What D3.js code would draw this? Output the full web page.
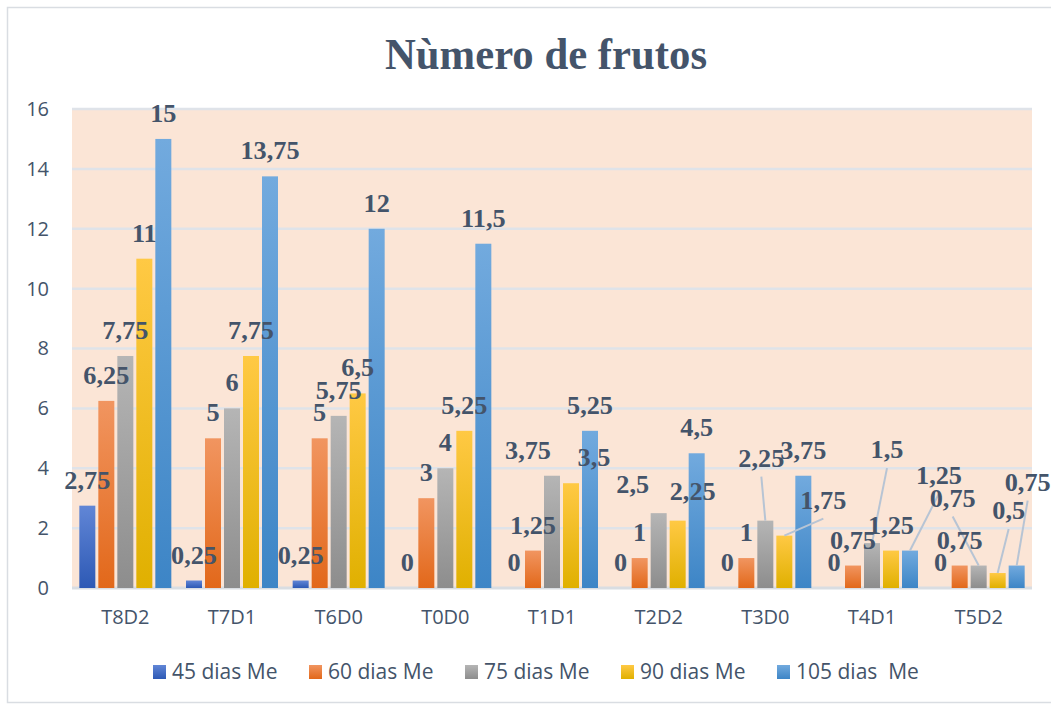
<!DOCTYPE html>
<html>
<head>
<meta charset="utf-8">
<script src="https://cdn.jsdelivr.net/npm/d3@7"></script>
<style>
  html, body { margin: 0; padding: 0; background: #ffffff; }
  svg { display: block; }
</style>
</head>
<body>
<div id="chart"></div>
<script>
// ---- data ----
const categories = ["T8D2", "T7D1", "T6D0", "T0D0", "T1D1", "T2D2", "T3D0", "T4D1", "T5D2"];
const seriesNames = ["45 dias Me", "60 dias Me", "75 dias Me", "90 dias Me", "105 dias  Me"];
const dias45  = [2.75, 0.25, 0.25, 0, 0, 0, 0, 0, 0];
const dias60  = [6.25, 5, 5, 3, 1.25, 1, 1, 0.75, 0.75];
const dias75  = [7.75, 6, 5.75, 4, 3.75, 2.5, 2.25, 1.5, 0.75];
const dias90  = [11, 7.75, 6.5, 5.25, 3.5, 2.25, 1.75, 1.25, 0.5];
const dias105 = [15, 13.75, 12, 11.5, 5.25, 4.5, 3.75, 1.25, 0.75];
const yTicks = [0, 2, 4, 6, 8, 10, 12, 14, 16];
const title = "Nùmero de frutos";

// ---- layout / style (not data) ----
const seriesValues = [dias45, dias60, dias75, dias90, dias105];
const gradStops = [
  ["#6186d6", "#2d59b5"],
  ["#f19560", "#e2681a"],
  ["#b5b5b5", "#8d8d8d"],
  ["#ffc944", "#e0b000"],
  ["#72aade", "#3d85c6"]
];
// manual label moves (pixels) with optional leader line: [categoryIndex, seriesIndex, dx, dy, leader]
const labelMoves = [
  [4, 2, -24, 0, false],
  [4, 3, 23, 0, false],
  [5, 2, -26, -3, false],
  [5, 3, 15, -4, false],
  [6, 2, -4, -37, true],
  [6, 3, 39, -10, true],
  [7, 2, 15, -68, true],
  [7, 4, 29, -50, true],
  [8, 2, -26, -42, true],
  [8, 3, 11, -37, true],
  [8, 4, 11, -58, true]
];

const W = 1051, H = 705;
const plot = { left: 72, right: 1032, top: 109, bottom: 588 };
const textColor = "#44546a";

const svg = d3.select("#chart").append("svg")
  .attr("width", W).attr("height", H);

// outer chart border
svg.append("rect")
  .attr("x", 7.5).attr("y", 7.5)
  .attr("width", W + 10).attr("height", 695)
  .attr("fill", "#ffffff")
  .attr("stroke", "#d9dde2").attr("stroke-width", 1.5);

const defs = svg.append("defs");
gradStops.forEach((g, i) => {
  const lg = defs.append("linearGradient")
    .attr("id", "grad" + i)
    .attr("x1", 0).attr("y1", 0).attr("x2", 0).attr("y2", 1);
  lg.append("stop").attr("offset", "0%").attr("stop-color", g[0]);
  lg.append("stop").attr("offset", "100%").attr("stop-color", g[1]);
});

const x = d3.scaleBand().domain(categories).range([plot.left, plot.right]).padding(0);
const groupW = 92;
const xs = d3.scaleBand().domain(d3.range(seriesNames.length))
  .range([(x.bandwidth() - groupW) / 2, (x.bandwidth() + groupW) / 2])
  .paddingInner(3 / 19).paddingOuter(0);
const y = d3.scaleLinear().domain([0, 16]).range([plot.bottom, plot.top]);

// plot background
svg.append("rect")
  .attr("x", plot.left).attr("y", plot.top)
  .attr("width", plot.right - plot.left).attr("height", plot.bottom - plot.top)
  .attr("fill", "#fbe5d6");

// gridlines
svg.append("g").selectAll("line").data(yTicks).join("line")
  .attr("x1", plot.left).attr("x2", plot.right)
  .attr("y1", d => y(d)).attr("y2", d => y(d))
  .attr("stroke", d => d === 0 ? "#d9dde2" : "#dfe3e9")
  .attr("stroke-width", d => d === 0 ? 3 : 2.5);

// y axis labels
const yAxis = d3.axisLeft(y).tickValues(yTicks).tickSize(0).tickPadding(0).tickFormat(d3.format("d"));
const yg = svg.append("g").attr("transform", `translate(${49},0)`).call(yAxis);
yg.select(".domain").remove();
yg.selectAll("text")
  .attr("font-family", "'Open Sans', sans-serif")
  .attr("font-size", 20)
  .attr("fill", textColor);

// x axis labels
const xAxis = d3.axisBottom(x).tickSize(0).tickPadding(0);
const xg = svg.append("g").attr("transform", `translate(0,${610})`).call(xAxis);
xg.select(".domain").remove();
xg.selectAll("text")
  .attr("font-family", "'Open Sans', sans-serif")
  .attr("font-size", 20)
  .attr("fill", textColor);

// bars
const flat = [];
categories.forEach((c, ci) => {
  seriesValues.forEach((arr, si) => {
    flat.push({ c, ci, si, v: arr[ci] });
  });
});

svg.append("g").selectAll("rect").data(flat.filter(d => d.v > 0)).join("rect")
  .attr("x", d => x(d.c) + xs(d.si))
  .attr("width", xs.bandwidth())
  .attr("y", d => y(d.v))
  .attr("height", d => y(0) - y(d.v))
  .attr("fill", d => `url(#grad${d.si})`);

// data labels
const fmt = v => String(v).replace(".", ",");
const labelPos = flat.map(d => {
  const m = labelMoves.find(k => k[0] === d.ci && k[1] === d.si);
  const bx = x(d.c) + xs(d.si) + xs.bandwidth() / 2;
  const by = y(d.v);
  return {
    ...d, bx, by,
    lx: bx + (m ? m[2] : 0),
    ly: by - 17 + (m ? m[3] : 0),
    leader: m ? m[4] : false
  };
});

svg.append("g").selectAll("line").data(labelPos.filter(d => d.leader)).join("line")
  .attr("x1", d => d.lx).attr("y1", d => d.ly + 10)
  .attr("x2", d => d.bx).attr("y2", d => d.by)
  .attr("stroke", "#b7c4d4").attr("stroke-width", 2);

svg.append("g").selectAll("text").data(labelPos).join("text")
  .attr("transform", d => `translate(${d.lx},${d.ly}) scale(1.05,1)`)
  .attr("text-anchor", "middle")
  .attr("font-family", "'Liberation Serif', 'Times New Roman', serif")
  .attr("font-weight", "bold")
  .attr("font-size", 25)
  .attr("fill", textColor)
  .text(d => fmt(d.v));

// title
svg.append("text")
  .attr("transform", `translate(546,69) scale(0.95,1)`)
  .attr("text-anchor", "middle")
  .attr("font-family", "'Liberation Serif', 'Times New Roman', serif")
  .attr("font-weight", "bold")
  .attr("font-size", 45)
  .attr("fill", textColor)
  .text(title);

// legend
const legend = svg.append("g");
const legendX0 = 153, legendStep = 156;
seriesNames.forEach((name, i) => {
  const g = legend.append("g").attr("transform", `translate(${legendX0 + i * legendStep},0)`);
  g.append("rect").attr("x", 0).attr("y", 665).attr("width", 13).attr("height", 14)
    .attr("fill", `url(#grad${i})`);
  g.append("text").attr("x", 19).attr("y", 679)
    .attr("font-family", "'Open Sans', sans-serif")
    .attr("font-size", 21)
    .attr("fill", textColor)
    .attr("xml:space", "preserve")
    .style("white-space", "pre")
    .text(name);
});
</script>
</body>
</html>
